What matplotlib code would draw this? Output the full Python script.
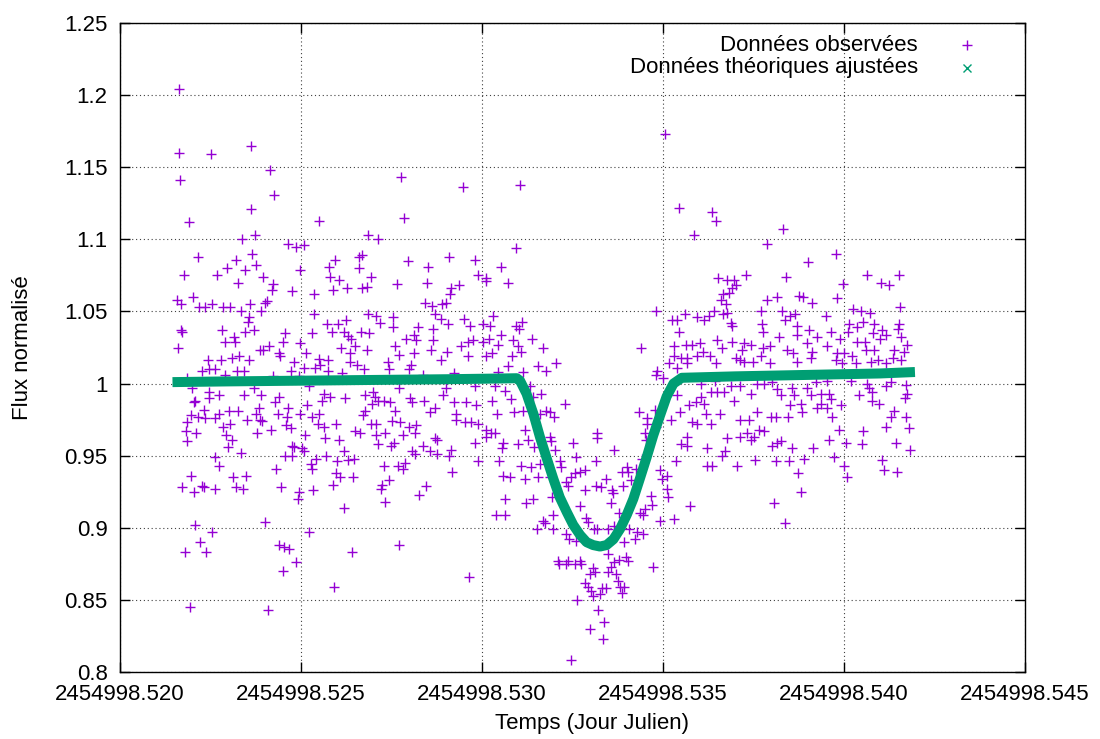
import numpy as np
import matplotlib.pyplot as plt

plt.rcParams['font.family'] = ['Liberation Sans', 'DejaVu Sans']

# time origin of the axis, data below are in 1e-3 day after it
JD0 = 2454998.520

t_upper_left = [
    1.62, 1.64, 2.51, 3.63, 4.15, 1.66, 4.26, 3.61, 1.90, 3.72,
    3.37, 2.16, 3.65, 3.21, 2.95, 3.46, 3.77, 1.76, 2.67, 3.94,
    3.27, 4.23, 4.20, 4.75, 4.96, 4.65, 4.87, 5.07, 5.49, 7.77,
    7.85, 6.84, 7.13, 7.96, 5.95, 6.59, 6.69, 5.78, 6.61, 5.79,
    6.04, 6.94, 5.89, 6.27, 6.68, 6.81, 7.65, 5.37, 1.57, 1.68,
    2.02, 2.19, 2.36, 2.54, 2.85, 3.03, 3.35, 3.58, 4.01, 4.06,
    3.90, 3.55, 3.53, 1.68, 1.72, 2.81, 3.44, 3.69, 2.90, 3.15,
    3.18, 1.60, 4.56, 4.51, 4.98, 4.12, 3.88, 3.95, 4.38, 4.43,
    5.14, 5.35, 5.71, 6.02, 6.25, 5.85, 5.31, 6.20, 6.31, 6.37,
    6.66, 6.89, 6.84, 7.08, 7.18, 7.53, 7.55, 8.11, 7.89, 7.60,
    7.72, 8.13, 6.10, 6.48, 6.35, 6.83, 2.42, 2.80, 3.10, 3.30,
    3.57, 2.27, 2.45, 2.62, 3.24, 3.43, 4.81, 4.71, 5.09, 5.49,
    5.75, 5.53, 5.39, 5.75, 6.34, 6.56, 6.75, 7.40, 7.44, 8.03,
    7.97]
f_upper_left = [
    1.204, 1.160, 1.159, 1.165, 1.148, 1.141, 1.131, 1.121, 1.112, 1.103,
    1.100, 1.088, 1.090, 1.086, 1.080, 1.079, 1.082, 1.075, 1.075, 1.074,
    1.070, 1.069, 1.065, 1.064, 1.079, 1.097, 1.095, 1.096, 1.113, 1.143,
    1.115, 1.103, 1.100, 1.085, 1.086, 1.088, 1.089, 1.081, 1.080, 1.074,
    1.072, 1.074, 1.065, 1.066, 1.066, 1.067, 1.069, 1.062, 1.058, 1.055,
    1.060, 1.053, 1.053, 1.055, 1.053, 1.053, 1.050, 1.055, 1.056, 1.057,
    1.050, 1.046, 1.043, 1.037, 1.036, 1.037, 1.036, 1.037, 1.029, 1.032,
    1.029, 1.025, 1.035, 1.029, 1.028, 1.026, 1.023, 1.023, 1.021, 1.019,
    1.021, 1.048, 1.041, 1.041, 1.044, 1.036, 1.035, 1.036, 1.033, 1.031,
    1.036, 1.035, 1.048, 1.047, 1.042, 1.046, 1.039, 1.034, 1.031, 1.026,
    1.020, 1.021, 1.025, 1.026, 1.021, 1.023, 1.016, 1.016, 1.018, 1.019,
    1.016, 1.009, 1.010, 1.010, 1.009, 1.009, 1.015, 1.009, 1.011, 1.017,
    1.016, 1.013, 1.011, 1.009, 1.015, 1.013, 1.010, 1.015, 1.010, 1.013,
    1.010]

t_lower_left = [
    1.85, 2.91, 4.24, 4.94, 5.21, 6.13, 1.99, 2.45, 2.73, 3.42,
    3.90, 3.69, 2.07, 2.04, 2.45, 4.38, 4.29, 4.63, 5.17, 5.64,
    5.81, 5.58, 6.22, 6.78, 6.98, 7.05, 7.14, 7.28, 7.46, 7.70,
    8.02, 8.06, 6.96, 2.31, 1.97, 2.16, 2.36, 2.62, 2.73, 3.00,
    3.26, 3.76, 3.83, 3.51, 3.88, 3.92, 4.36, 4.62, 4.98, 5.30,
    5.49, 6.71, 6.76, 7.61, 1.85, 2.84, 3.05, 4.59, 4.71, 4.18,
    3.79, 5.46, 5.63, 5.97, 6.92, 7.07, 7.50, 7.74, 7.97, 8.18,
    1.82, 2.11, 1.85, 2.93, 3.09, 2.97, 5.10, 5.67, 6.06, 6.50,
    6.64, 7.07, 7.31, 7.81, 8.14, 7.14, 7.56, 7.49, 4.75, 4.82,
    5.03, 5.07, 6.18, 8.08, 3.35, 2.62, 2.73, 4.57, 4.75, 5.41,
    5.70, 5.99, 6.30, 6.46, 5.27, 5.31, 7.28, 7.67, 7.86, 7.83,
    8.16, 4.31, 1.97, 3.11, 3.48, 5.98, 6.07, 6.44, 5.89, 7.42,
    7.24, 7.20, 1.71, 2.04, 2.27, 2.31, 2.63, 3.20, 3.39, 4.46,
    4.94, 4.92, 5.32, 6.20, 7.33, 8.27, 2.08, 2.54, 2.20, 1.80,
    2.38, 4.00, 4.38, 4.52, 4.66, 4.86, 4.49, 5.23, 6.41, 5.90,
    7.72, 1.92, 4.09]
f_lower_left = [
    1.004, 1.006, 1.005, 1.005, 0.998, 1.007, 0.997, 0.994, 0.992, 0.992,
    0.992, 0.997, 0.988, 0.987, 0.990, 0.991, 0.987, 0.983, 0.985, 0.993,
    0.991, 0.988, 0.990, 0.992, 0.994, 0.991, 0.988, 0.988, 0.987, 0.997,
    0.990, 0.987, 0.986, 0.982, 0.978, 0.977, 0.976, 0.976, 0.979, 0.981,
    0.981, 0.979, 0.983, 0.975, 0.975, 0.974, 0.979, 0.977, 0.979, 0.977,
    0.979, 0.978, 0.981, 0.981, 0.973, 0.970, 0.972, 0.971, 0.969, 0.968,
    0.966, 0.972, 0.970, 0.972, 0.972, 0.972, 0.974, 0.973, 0.970, 0.971,
    0.967, 0.966, 0.960, 0.964, 0.961, 0.956, 0.964, 0.962, 0.961, 0.967,
    0.966, 0.964, 0.966, 0.964, 0.966, 0.958, 0.959, 0.957, 0.957, 0.956,
    0.955, 0.953, 0.953, 0.953, 0.952, 0.949, 0.943, 0.950, 0.950, 0.948,
    0.950, 0.946, 0.947, 0.948, 0.944, 0.941, 0.943, 0.943, 0.945, 0.941,
    0.951, 0.941, 0.936, 0.935, 0.936, 0.938, 0.935, 0.935, 0.930, 0.933,
    0.930, 0.927, 0.928, 0.925, 0.929, 0.928, 0.927, 0.928, 0.927, 0.928,
    0.925, 0.920, 0.926, 0.914, 0.918, 0.923, 0.902, 0.897, 0.890, 0.883,
    0.883, 0.904, 0.888, 0.887, 0.885, 0.876, 0.870, 0.897, 0.883, 0.859,
    0.888, 0.845, 0.843]

t_upper_mid = [
    9.48, 11.04, 15.06, 10.93, 9.10, 8.51, 9.80, 10.53, 9.89, 10.12,
    10.10, 10.72, 8.49, 9.13, 9.36, 9.12, 8.43, 8.62, 8.89, 9.01,
    8.70, 8.88, 9.06, 9.49, 10.30, 14.82, 8.23, 8.66, 9.68, 10.03,
    10.21, 10.95, 11.10, 11.01, 10.52, 8.19, 8.65, 9.43, 9.61, 9.75,
    10.03, 10.18, 10.44, 10.86, 11.39, 11.69, 10.99, 8.60, 9.03, 9.61,
    10.12, 10.28, 10.84, 11.07, 8.86, 10.72, 11.54, 11.78, 12.05, 14.40,
    15.16, 14.84, 8.37, 9.24, 10.44, 11.13]
f_upper_mid = [
    1.136, 1.138, 1.173, 1.094, 1.088, 1.081, 1.086, 1.081, 1.075, 1.073,
    1.071, 1.070, 1.070, 1.066, 1.068, 1.062, 1.056, 1.054, 1.055, 1.056,
    1.048, 1.045, 1.041, 1.045, 1.047, 1.050, 1.039, 1.038, 1.040, 1.041,
    1.040, 1.040, 1.043, 1.038, 1.034, 1.030, 1.030, 1.026, 1.029, 1.030,
    1.029, 1.031, 1.027, 1.030, 1.031, 1.025, 1.026, 1.023, 1.022, 1.019,
    1.019, 1.021, 1.019, 1.022, 1.016, 1.012, 1.012, 1.009, 1.014, 1.025,
    1.014, 1.009, 1.006, 1.007, 1.008, 1.008]

t_lower_mid = [
    14.82, 15.00, 9.01, 8.92, 9.80, 10.35, 10.63, 11.32, 11.64, 11.41,
    10.81, 10.29, 8.39, 9.24, 9.57, 9.84, 12.28, 8.71, 8.55, 9.29,
    10.42, 10.88, 11.13, 11.78, 11.87, 11.99, 11.59, 14.34, 14.77, 9.29,
    9.52, 9.70, 9.89, 14.57, 14.57, 14.82, 10.12, 10.26, 10.35, 10.12,
    8.69, 8.76, 9.80, 11.18, 11.27, 11.45, 10.99, 10.58, 10.55, 11.87,
    11.90, 12.51, 12.01, 13.19, 13.19, 13.65, 14.49, 14.54, 8.37, 8.55,
    8.76, 9.14, 9.10, 9.89, 12.61, 13.16, 10.47, 11.09, 11.34, 11.59,
    12.15, 12.19, 14.43, 14.92, 14.96, 14.25, 14.00, 13.88, 14.03, 9.17,
    10.58, 10.76, 11.18, 11.56, 11.87, 12.57, 12.71, 12.85, 12.47, 12.33,
    12.38, 12.84, 13.16, 13.30, 13.43, 13.58, 13.62, 13.90, 14.11, 8.46,
    10.63, 11.41, 11.22, 11.92, 12.70, 13.56, 14.66, 14.70, 14.49, 14.36,
    14.45, 13.79, 10.40, 10.64, 11.96, 12.88, 12.93, 11.69, 11.73, 11.53,
    11.96, 12.31, 12.39, 12.60, 13.10, 13.19, 13.48, 13.66, 14.05, 14.27,
    14.22, 14.45, 13.92, 14.91, 12.10, 12.12, 12.38, 12.33, 12.56, 12.70,
    12.74, 13.07, 13.12, 12.97, 13.48, 13.66, 13.57, 13.48, 13.71, 13.78,
    13.99, 14.03, 14.72, 12.84, 12.93, 13.02, 13.07, 13.25, 13.32, 13.43,
    13.76, 13.80, 13.92, 13.87, 12.63, 9.64, 13.20, 13.37, 12.97, 13.34,
    12.45]
f_lower_mid = [
    1.006, 1.004, 0.997, 0.992, 0.998, 0.998, 0.995, 0.998, 0.993, 0.991,
    0.989, 0.988, 0.988, 0.987, 0.987, 0.985, 0.986, 0.983, 0.980, 0.979,
    0.979, 0.980, 0.981, 0.981, 0.980, 0.977, 0.979, 0.980, 0.982, 0.975,
    0.973, 0.973, 0.972, 0.976, 0.972, 0.970, 0.968, 0.966, 0.966, 0.963,
    0.962, 0.961, 0.959, 0.968, 0.961, 0.956, 0.958, 0.959, 0.955, 0.963,
    0.960, 0.959, 0.954, 0.966, 0.962, 0.954, 0.966, 0.961, 0.957, 0.953,
    0.951, 0.954, 0.950, 0.946, 0.949, 0.946, 0.946, 0.943, 0.942, 0.944,
    0.946, 0.942, 0.948, 0.940, 0.934, 0.941, 0.942, 0.939, 0.939, 0.939,
    0.936, 0.935, 0.934, 0.935, 0.935, 0.938, 0.939, 0.940, 0.935, 0.932,
    0.929, 0.926, 0.929, 0.928, 0.934, 0.926, 0.924, 0.929, 0.933, 0.929,
    0.920, 0.920, 0.917, 0.921, 0.915, 0.917, 0.922, 0.916, 0.913, 0.910,
    0.909, 0.910, 0.909, 0.909, 0.909, 0.907, 0.904, 0.905, 0.903, 0.899,
    0.899, 0.896, 0.892, 0.891, 0.899, 0.899, 0.899, 0.901, 0.899, 0.897,
    0.892, 0.896, 0.890, 0.905, 0.877, 0.875, 0.877, 0.875, 0.875, 0.877,
    0.875, 0.872, 0.869, 0.868, 0.882, 0.876, 0.873, 0.869, 0.868, 0.878,
    0.880, 0.877, 0.873, 0.862, 0.859, 0.856, 0.853, 0.854, 0.858, 0.858,
    0.863, 0.859, 0.859, 0.855, 0.850, 0.866, 0.843, 0.835, 0.830, 0.823,
    0.808]

t_upper_right = [
    15.44, 16.34, 16.47, 15.86, 18.32, 17.86, 19.79, 19.01, 17.30, 16.52,
    16.76, 16.96, 17.03, 16.91, 16.82, 16.67, 18.39, 19.97, 20.63, 21.01,
    21.24, 21.52, 17.88, 18.14, 18.76, 18.88, 19.11, 19.80, 16.59, 16.73,
    16.41, 16.67, 16.78, 21.55, 20.25, 20.46, 20.71, 15.60, 15.26, 15.40,
    15.95, 16.13, 16.27, 17.70, 18.29, 18.36, 18.51, 18.65, 19.49, 15.44,
    16.87, 16.90, 17.73, 17.75, 18.69, 18.71, 19.03, 19.26, 19.63, 19.88,
    20.15, 20.12, 20.37, 20.53, 20.83, 20.81, 21.06, 21.15, 20.99, 21.49,
    21.52, 21.58, 21.75, 16.50, 16.64, 16.91, 17.23, 17.44, 18.20, 15.30,
    15.63, 15.81, 16.02, 17.18, 17.76, 17.96, 18.42, 18.59, 18.99, 19.12,
    19.52, 20.37, 20.58, 20.62, 20.83, 21.38, 21.66, 15.30, 15.49, 15.67,
    15.95, 16.11, 16.30, 17.01, 17.14, 17.70, 19.82, 20.00, 20.23, 19.77,
    20.32, 15.38, 15.65, 16.46, 17.24, 17.49, 17.95, 18.69, 19.08, 19.95,
    20.74, 20.94, 21.15, 21.58, 21.36]
f_upper_right = [
    1.122, 1.119, 1.113, 1.103, 1.107, 1.097, 1.090, 1.084, 1.075, 1.073,
    1.072, 1.072, 1.068, 1.066, 1.063, 1.062, 1.074, 1.069, 1.075, 1.070,
    1.068, 1.075, 1.058, 1.060, 1.061, 1.060, 1.056, 1.059, 1.058, 1.055,
    1.050, 1.048, 1.049, 1.053, 1.052, 1.050, 1.049, 1.048, 1.044, 1.044,
    1.046, 1.044, 1.047, 1.050, 1.050, 1.044, 1.047, 1.048, 1.047, 1.036,
    1.042, 1.040, 1.041, 1.036, 1.040, 1.034, 1.037, 1.032, 1.036, 1.031,
    1.041, 1.036, 1.039, 1.043, 1.041, 1.035, 1.037, 1.034, 1.031, 1.038,
    1.041, 1.032, 1.027, 1.030, 1.025, 1.029, 1.028, 1.027, 1.032, 1.026,
    1.027, 1.027, 1.028, 1.023, 1.025, 1.026, 1.023, 1.021, 1.028, 1.022,
    1.026, 1.029, 1.029, 1.023, 1.023, 1.023, 1.022, 1.019, 1.018, 1.018,
    1.019, 1.022, 1.019, 1.018, 1.016, 1.019, 1.021, 1.021, 1.019, 1.016,
    1.014, 1.011, 1.014, 1.014, 1.015, 1.015, 1.014, 1.015, 1.018, 1.014,
    1.015, 1.016, 1.014, 1.016, 1.018]

t_lower_right = [
    16.04, 16.45, 16.87, 17.14, 17.61, 17.79, 18.02, 18.16, 18.57, 18.99,
    19.22, 19.54, 20.18, 20.63, 20.69, 21.15, 21.31, 21.70, 16.32, 16.50,
    16.69, 17.42, 18.25, 18.62, 19.08, 19.36, 19.59, 20.41, 20.78, 21.75,
    15.40, 16.04, 15.90, 16.13, 15.72, 16.96, 18.80, 19.36, 19.63, 19.91,
    18.50, 19.26, 20.76, 20.97, 21.69, 18.85, 15.47, 16.20, 16.57, 17.61,
    19.52, 21.38, 21.29, 21.70, 17.98, 18.12, 18.46, 19.68, 15.23, 15.81,
    15.95, 16.32, 17.14, 17.37, 21.15, 21.80, 19.86, 20.53, 17.33, 17.65,
    17.79, 16.78, 17.13, 17.44, 17.51, 15.67, 15.49, 15.67, 18.16, 18.02,
    18.25, 19.59, 20.05, 20.49, 21.43, 16.21, 16.71, 16.62, 18.57, 19.13,
    21.82, 15.35, 17.53, 18.11, 18.48, 18.90, 19.71, 21.06, 16.21, 16.36,
    17.05, 20.00, 21.11, 21.47, 18.74, 20.07, 15.12, 15.10, 15.14, 18.81,
    15.75, 18.07, 15.31, 18.37]
f_lower_right = [
    1.000, 1.002, 0.998, 0.998, 1.000, 1.000, 1.001, 0.996, 0.997, 0.997,
    1.001, 1.002, 1.002, 1.000, 0.997, 0.998, 1.001, 0.999, 0.994, 0.994,
    0.994, 0.993, 0.992, 0.992, 0.992, 0.993, 0.993, 0.992, 0.994, 0.993,
    0.992, 0.991, 0.987, 0.986, 0.985, 0.988, 0.986, 0.986, 0.989, 0.985,
    0.985, 0.983, 0.988, 0.986, 0.990, 0.980, 0.980, 0.979, 0.979, 0.980,
    0.983, 0.981, 0.977, 0.977, 0.977, 0.977, 0.977, 0.977, 0.975, 0.973,
    0.972, 0.972, 0.975, 0.975, 0.970, 0.969, 0.968, 0.967, 0.966, 0.968,
    0.967, 0.962, 0.963, 0.961, 0.963, 0.963, 0.958, 0.957, 0.959, 0.957,
    0.960, 0.961, 0.959, 0.958, 0.959, 0.955, 0.953, 0.950, 0.955, 0.955,
    0.954, 0.946, 0.947, 0.946, 0.946, 0.948, 0.949, 0.947, 0.943, 0.943,
    0.943, 0.943, 0.940, 0.939, 0.938, 0.935, 0.936, 0.927, 0.921, 0.925,
    0.915, 0.917, 0.906, 0.903]

# fitted model, read along the green band
t_fit = [1.45, 3.0, 5.0, 7.0, 9.0, 10.5, 10.96, 11.05, 11.23, 11.42,
         11.60, 11.79, 11.97, 12.15, 12.34, 12.52, 12.71, 12.89, 13.07, 13.26,
         13.44, 13.63, 13.81, 14.00, 14.18, 14.36, 14.55, 14.73, 14.92, 15.10,
         15.29, 15.52, 17.0, 19.0, 21.0, 21.96]
f_fit = [1.001, 1.0015, 1.002, 1.0025, 1.003, 1.0035, 1.0037, 1.002, 0.993, 0.979,
         0.963, 0.948, 0.934, 0.921, 0.911, 0.902, 0.895, 0.890, 0.888, 0.887,
         0.888, 0.892, 0.899, 0.909, 0.920, 0.934, 0.949, 0.964, 0.978, 0.991,
         1.000, 1.004, 1.005, 1.006, 1.007, 1.008]

x_ticks = [0, 5, 10, 15, 20, 25]
x_tick_labels = ['2454998.520', '2454998.525', '2454998.530',
                 '2454998.535', '2454998.540', '2454998.545']
y_ticks = [0.8, 0.85, 0.9, 0.95, 1.0, 1.05, 1.1, 1.15, 1.2, 1.25]
y_tick_labels = ['0.8', '0.85', '0.9', '0.95', '1', '1.05', '1.1', '1.15',
                 '1.2', '1.25']
legend_labels = ['Données observées', 'Données théoriques ajustées']

t_obs = np.array(t_upper_left + t_lower_left + t_upper_mid + t_lower_mid
                 + t_upper_right + t_lower_right)
f_obs = np.array(f_upper_left + f_lower_left + f_upper_mid + f_lower_mid
                 + f_upper_right + f_lower_right)
assert len(t_obs) == len(f_obs)

purple = '#9400d3'
green = '#009e73'

fig = plt.figure(figsize=(11, 7.39), dpi=100)
ax = fig.add_axes([120 / 1100, 1 - 672 / 739, 905 / 1100, 649 / 739])

ax.plot(JD0 + t_obs / 1000, f_obs, ls='none', marker='+', ms=7, mew=1.0,
        color=purple, zorder=3)
ax.plot(JD0 + np.array(t_fit) / 1000, f_fit, color=green, lw=7.2,
        solid_capstyle='butt', solid_joinstyle='round', zorder=4)

ax.set_xlim(JD0, JD0 + 0.025)
ax.set_ylim(0.8, 1.25)
ax.set_xticks(JD0 + np.array(x_ticks) / 1000)
ax.set_xticklabels(x_tick_labels)
ax.set_yticks(y_ticks)
ax.set_yticklabels(y_tick_labels)
ax.tick_params(direction='in', length=7, width=1, top=True, right=True,
               labelsize=16, pad=9, colors='black')
ax.grid(True, color='0.25', lw=0.8, ls=(0, (1, 2.5)), zorder=0)
ax.set_axisbelow(True)
for s in ax.spines.values():
    s.set_linewidth(1.0)

ax.set_xlabel('Temps (Jour Julien)', fontsize=16)
ax.xaxis.set_label_coords(0.5215, -0.063)
ax.set_ylabel('Flux normalisé', fontsize=16)
ax.yaxis.set_label_coords(-0.096, 0.5)

# gnuplot-style key: right-aligned labels, sample symbol on the right
key_rows = [(legend_labels[0], '+', 7, 0.9661), (legend_labels[1], 'x', 6, 0.9307)]
key_colors = [purple, green]
for (label, mk, ms, yk), c in zip(key_rows, key_colors):
    ax.text(0.8818, yk, label, transform=ax.transAxes, ha='right', va='center',
            fontsize=16)
    ax.plot([0.9359], [yk], ls='none', marker=mk, ms=ms, mew=1.0, color=c,
            transform=ax.transAxes, clip_on=False, zorder=5)

fig.savefig('out.png', dpi=100)
